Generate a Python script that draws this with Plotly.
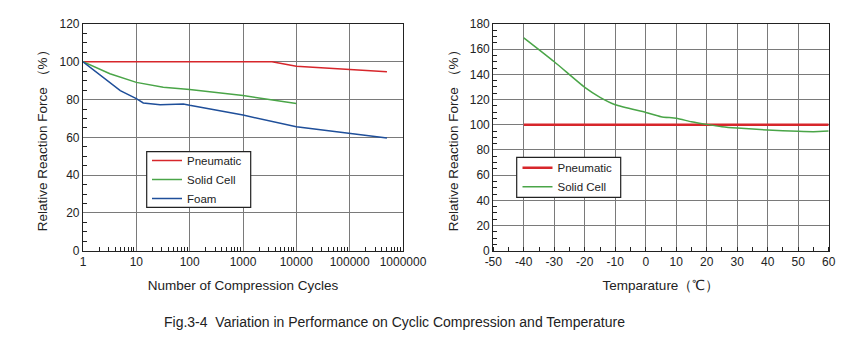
import plotly.graph_objects as go

# ---- Left chart: cyclic compression ----
cycles_pneu = [1, 3500, 10000, 30000, 100000, 500000]
force_pneu = [100, 100, 97.6, 96.7, 96.1, 94.7]

cycles_solid = [1, 3.2, 10, 32, 100, 1000, 10000]
force_solid = [100, 93.7, 89.1, 86.5, 85.3, 82.1, 77.9]

cycles_foam = [1, 5, 10, 13.5, 28, 76, 100, 1000, 10000, 100000, 500000]
force_foam = [100, 84.7, 80.5, 78.2, 77.2, 77.7, 77.0, 71.8, 65.6, 62.1, 59.6]

# ---- Right chart: temperature ----
temp_pneu = [-40, 60]
tforce_pneu = [100, 100]

temp_solid = [-40, -30, -20, -15, -10, 0, 5, 10, 15, 20, 25, 30, 40, 50, 55, 60]
tforce_solid = [169, 150, 129.7, 121.8, 115.9, 109.8, 106.4, 105.1, 102.4, 100.3,
                98.5, 97.4, 95.8, 94.8, 94.5, 95.0]

left_ticks = [1, 10, 100, 1000, 10000, 100000, 1000000]
left_ticktext = ["1", "10", "100", "1000", "10000", "100000", "1000000"]
temp_ticks = [-50, -40, -30, -20, -10, 0, 10, 20, 30, 40, 50, 60]
temp_ticktext = ["-50", "-40", "-30", "-20", "-10", "0", "10", "20", "30", "40", "50", "60"]

RED = "#d7262b"
GREEN = "#4aa548"
BLUE = "#1f4f9a"
FONT = "Liberation Sans, Arial, sans-serif"
INK = "#222"

fig = go.Figure()

fig.add_trace(go.Scatter(x=cycles_pneu, y=force_pneu, mode="lines", name="Pneumatic",
                         line=dict(color=RED, width=1.5), xaxis="x", yaxis="y", legend="legend"))
fig.add_trace(go.Scatter(x=cycles_solid, y=force_solid, mode="lines", name="Solid Cell",
                         line=dict(color=GREEN, width=1.5), xaxis="x", yaxis="y", legend="legend"))
fig.add_trace(go.Scatter(x=cycles_foam, y=force_foam, mode="lines", name="Foam",
                         line=dict(color=BLUE, width=1.5), xaxis="x", yaxis="y", legend="legend"))

fig.add_trace(go.Scatter(x=temp_pneu, y=tforce_pneu, mode="lines", name="Pneumatic",
                         line=dict(color=RED, width=2.5), xaxis="x2", yaxis="y2", legend="legend2"))
fig.add_trace(go.Scatter(x=temp_solid, y=tforce_solid, mode="lines", name="Solid Cell",
                         line=dict(color=GREEN, width=1.5, shape="spline", smoothing=0.6),
                         xaxis="x2", yaxis="y2", legend="legend2"))

W, H = 857, 344
ydom = [1 - 250.7 / H, 1 - 24 / H]
L_X = [83 / W, 403 / W]
R_X = [493.3 / W, 828.7 / W]

common_axis = dict(
    showline=True, linecolor=INK, linewidth=1.2, mirror=True,
    showgrid=True, gridcolor="#7a7a7a", gridwidth=1,
    ticks="", tickfont=dict(family=FONT, size=12, color=INK),
    zeroline=False, automargin=False,
)
title_font = dict(family=FONT, size=13.5, color=INK)
minor_lin = dict(ticks="inside", ticklen=4, tickcolor=INK, showgrid=False, dtick=5)

fig.update_layout(
    width=W, height=H,
    margin=dict(l=0, r=0, t=0, b=0),
    paper_bgcolor="white", plot_bgcolor="white",
    font=dict(family=FONT, color=INK),
    xaxis=dict(
        **common_axis,
        domain=L_X, anchor="y",
        type="log", range=[0, 6],
        tickmode="array", tickvals=left_ticks, ticktext=left_ticktext,
        minor=dict(ticks="inside", ticklen=4, tickcolor=INK, showgrid=False,
                   tickmode="array",
                   tickvals=[m * 10 ** k for k in range(6) for m in range(2, 10)]),
        title=dict(text="Number of Compression Cycles", font=title_font, standoff=12),
    ),
    yaxis=dict(
        **common_axis,
        domain=ydom, anchor="x",
        range=[0, 120], dtick=20, tick0=0,
        minor=minor_lin,
        title=dict(text="Relative Reaction Force （%）", font=title_font, standoff=8),
    ),
    xaxis2=dict(
        **common_axis,
        domain=R_X, anchor="y2",
        range=[-50, 60],
        tickmode="array", tickvals=temp_ticks, ticktext=temp_ticktext,
        minor=minor_lin,
        title=dict(text="Temparature（℃）", font=title_font, standoff=12),
    ),
    yaxis2=dict(
        **common_axis,
        domain=ydom, anchor="x2",
        range=[0, 180], dtick=20, tick0=0,
        minor=minor_lin,
        title=dict(text="Relative Reaction Force （%）", font=title_font, standoff=8),
    ),
    legend=dict(
        x=147 / W, y=1 - 179.5 / H, xanchor="left", yanchor="middle",
        bgcolor="rgba(0,0,0,0)", borderwidth=0,
        font=dict(family=FONT, size=11.5, color=INK),
        tracegroupgap=0, itemwidth=30,
    ),
    legend2=dict(
        x=517.5 / W, y=1 - 177.3 / H, xanchor="left", yanchor="middle",
        bgcolor="rgba(0,0,0,0)", borderwidth=0,
        font=dict(family=FONT, size=11.5, color=INK),
        tracegroupgap=0, itemwidth=30,
    ),
    shapes=[
        dict(type="rect", xref="paper", yref="paper",
             x0=146.7 / W, x1=250.7 / W, y0=1 - 207.3 / H, y1=1 - 151.7 / H,
             line=dict(color=INK, width=1.2), fillcolor="white", layer="above"),
        dict(type="rect", xref="paper", yref="paper",
             x0=516.7 / W, x1=620.7 / W, y0=1 - 197.3 / H, y1=1 - 157.3 / H,
             line=dict(color=INK, width=1.2), fillcolor="white", layer="above"),
    ],
    annotations=[dict(
        text="Fig.3-4  Variation in Performance on Cyclic Compression and Temperature",
        x=394 / W, y=1 - 322 / H, xref="paper", yref="paper",
        xanchor="center", yanchor="middle", showarrow=False,
        font=dict(family=FONT, size=14, color=INK),
    )],
)

fig.write_html("out.html")
